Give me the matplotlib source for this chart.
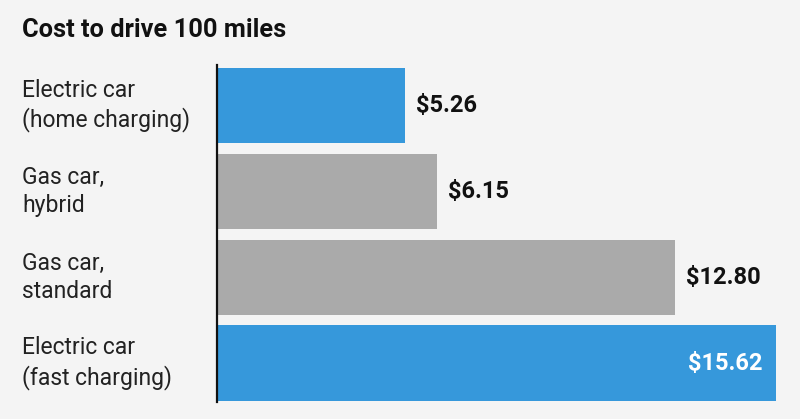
import matplotlib
matplotlib.use("Agg")
import matplotlib.pyplot as plt
import matplotlib.transforms as mtransforms

# chart data
labels = ["Electric car\n(home charging)", "Gas car,\nhybrid", "Gas car,\nstandard", "Electric car\n(fast charging)"]
costs = [5.26, 6.15, 12.80, 15.62]
colors = ["#3698db", "#aaaaaa", "#aaaaaa", "#3698db"]
title = "Cost to drive 100 miles"

plt.rcParams['font.family'] = ['Roboto', 'DejaVu Sans']

W, H = 800, 419
fig = plt.figure(figsize=(W / 100, H / 100), dpi=100)
fig.patch.set_facecolor("#f4f4f4")

# axes placed in pixel terms
left, right, top, bottom = 217, 790, 65, 402
ax = fig.add_axes([left / W, 1 - bottom / H, (right - left) / W, (bottom - top) / H])
ax.set_facecolor("#f4f4f4")

ypos = list(range(len(costs)))
ax.barh(ypos, costs, height=0.88, color=colors)
ax.set_xlim(0, 16)
ax.set_ylim(3.45, -0.47)

for s in ["top", "right", "bottom"]:
    ax.spines[s].set_visible(False)
ax.spines["left"].set_linewidth(1.6)
ax.spines["left"].set_color("#111111")
ax.set_xticks([])
ax.set_yticks([])

# category labels on the left, left aligned
trans = mtransforms.blended_transform_factory(fig.transFigure, ax.transData)
for y, lab in zip(ypos, labels):
    ax.text(22 / W, y, lab, transform=trans, ha="left", va="center",
            fontsize=16.5, color="#222222", linespacing=1.3)

# value labels
for y, v in zip(ypos, costs):
    txt = "${:.2f}".format(v)
    if v > 15:
        ax.annotate(txt, (v, y), xytext=(-14, 0), textcoords="offset pixels",
                    ha="right", va="center", fontsize=17, fontweight="bold", color="white")
    else:
        ax.annotate(txt, (v, y), xytext=(11, 0), textcoords="offset pixels",
                    ha="left", va="center", fontsize=17, fontweight="bold", color="#111111")

fig.text(22 / W, 1 - 30 / H, title, ha="left", va="center",
         fontsize=18.3, fontweight="bold", color="#111111")

fig.savefig("out.png", dpi=100, facecolor=fig.get_facecolor())
